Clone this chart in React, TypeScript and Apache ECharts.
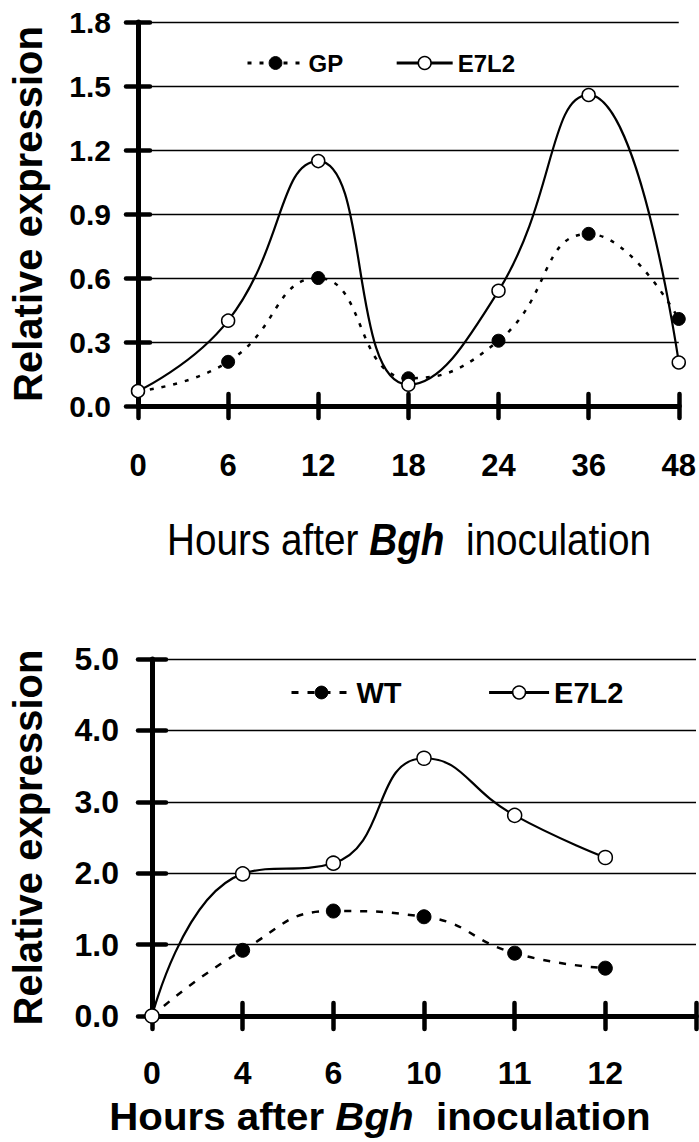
import React, { useEffect, useRef } from "react";
import * as echarts from "echarts";

// Top chart data
const topHours = ["0", "6", "12", "18", "24", "36", "48"];
const topGP = [0.07, 0.207, 0.6, 0.13, 0.306, 0.807, 0.408];
const topE7L2 = [0.07, 0.4, 1.148, 0.1, 0.54, 1.458, 0.204];
const topYTicks = { min: 0, max: 1.8, interval: 0.3 };

// Bottom chart data
const botHours = ["0", "4", "6", "10", "11", "12", ""];
const botWT = [0, 0.92, 1.47, 1.39, 0.88, 0.67];
const botE7L2 = [0, 1.99, 2.14, 3.61, 2.81, 2.22];
const botYTicks = { min: 0, max: 5, interval: 1 };

const xTitle = "Hours after {i|Bgh}  inoculation";
const yTitle = "Relative expression";

const SANS = "'Liberation Sans', Arial, sans-serif";

export default function App() {
  const ref = useRef<HTMLDivElement>(null);
  useEffect(() => {
    if (!ref.current) return;
    const chart = echarts.init(ref.current, undefined, { renderer: "svg" });

    const axisLine = () => ({ show: true, onZero: false, lineStyle: { color: "#000", width: 5, cap: "round" } });
    const tick = (inside: boolean, length: number) => ({
      show: true,
      inside,
      length,
      lineStyle: { color: "#000", width: 4.5, cap: "round" },
    });

    const filledItem = () => ({ color: "#000", borderColor: "#000", borderWidth: 1 });
    const openItem = () => ({ color: "#fff", borderColor: "#000", borderWidth: 1.5 });

    const catAxis = (grid: number, data: string[], main: boolean, len: number, labelSize: number, margin: number) => ({
      gridIndex: grid,
      type: "category",
      position: "bottom",
      data,
      boundaryGap: false,
      axisLine: main ? axisLine() : { show: false },
      axisTick: tick(!main, len),
      axisLabel: main
        ? { margin, fontFamily: SANS, fontWeight: "bold", fontSize: labelSize, color: "#000" }
        : { show: false },
      splitLine: { show: false },
    });

    const valAxis = (
      grid: number,
      t: { min: number; max: number; interval: number },
      main: boolean,
      len: number,
      margin: number,
      nameGap: number
    ) => ({
      gridIndex: grid,
      type: "value",
      position: "left",
      min: t.min,
      max: t.max,
      interval: t.interval,
      axisLine: main ? axisLine() : { show: false },
      axisTick: tick(!main, len),
      axisLabel: main
        ? {
            margin,
            fontFamily: SANS,
            fontWeight: "bold",
            fontSize: grid === 0 ? 30 : 32,
            color: "#000",
            formatter: (v: number) => v.toFixed(1),
          }
        : { show: false },
      splitLine: main ? { show: true, lineStyle: { color: "#000", width: 1.3 } } : { show: false },
      ...(main
        ? {
            name: yTitle,
            nameLocation: "middle",
            nameRotate: 90,
            nameGap,
            nameTextStyle: { fontFamily: SANS, fontWeight: "bold", fontSize: 40, color: "#000" },
          }
        : {}),
    });

    const option: any = {
      animation: false,
      backgroundColor: "#fff",
      grid: [
        { left: 137, right: 17, top: 22, height: 384, containLabel: false },
        { left: 151, right: 3, top: 659, height: 357, containLabel: false },
      ],
      legend: [
        {
          left: 241,
          top: 46,
          itemWidth: 56,
          itemHeight: 16,
          itemGap: 52,
          textStyle: { fontFamily: SANS, fontWeight: "bold", fontSize: 24, color: "#000" },
          data: [
            { name: "GP", lineStyle: { color: "#000", width: 3, type: [4, 8] }, itemStyle: filledItem() },
            { name: "E7L2", lineStyle: { color: "#000", width: 3, type: "solid" }, itemStyle: openItem() },
          ],
        },
        {
          left: 285,
          top: 673,
          itemWidth: 60,
          itemHeight: 16,
          itemGap: 86,
          textStyle: { fontFamily: SANS, fontWeight: "bold", fontSize: 29, color: "#000" },
          data: [
            { name: "WT", lineStyle: { color: "#000", width: 3, type: [7, 9] }, itemStyle: filledItem() },
            { name: "E7L2", lineStyle: { color: "#000", width: 3, type: "solid" }, itemStyle: openItem() },
          ],
        },
      ],
      graphic: [
        {
          type: "text",
          x: 409,
          y: 539,
          scaleX: 0.86,
          style: {
            text: xTitle,
            fontFamily: SANS,
            fontSize: 45,
            fill: "#000",
            align: "center",
            verticalAlign: "middle",
            rich: {
              i: { fontFamily: SANS, fontSize: 45, fontStyle: "italic", fontWeight: "bold", fill: "#000" },
            },
          },
        },
        {
          type: "text",
          x: 380,
          y: 1117,
          scaleX: 1.06,
          style: {
            text: xTitle,
            fontFamily: SANS,
            fontWeight: "bold",
            fontSize: 38,
            fill: "#000",
            align: "center",
            verticalAlign: "middle",
            rich: {
              i: { fontFamily: SANS, fontSize: 38, fontStyle: "italic", fontWeight: "bold", fill: "#000" },
            },
          },
        },
      ],
      xAxis: [
        catAxis(0, topHours, true, 12, 31, 44),
        catAxis(0, topHours, false, 12, 31, 44),
        catAxis(1, botHours, true, 13, 32, 41),
        catAxis(1, botHours, false, 13, 32, 41),
      ],
      yAxis: [
        valAxis(0, topYTicks, true, 12, 27, 90),
        valAxis(0, topYTicks, false, 12, 27, 90),
        valAxis(1, botYTicks, true, 14, 33, 104),
        valAxis(1, botYTicks, false, 14, 33, 104),
      ],
      series: [
        {
          name: "GP",
          type: "line",
          xAxisIndex: 0,
          yAxisIndex: 0,
          data: topGP,
          smooth: 0.5,
          symbol: "circle",
          symbolSize: 13,
          lineStyle: { color: "#000", width: 2.5, type: [4, 8] },
          itemStyle: filledItem(),
          z: 3,
        },
        {
          name: "E7L2",
          type: "line",
          xAxisIndex: 0,
          yAxisIndex: 0,
          data: topE7L2,
          smooth: 0.5,
          symbol: "circle",
          symbolSize: 13,
          lineStyle: { color: "#000", width: 2.2, type: "solid" },
          itemStyle: openItem(),
          z: 4,
        },
        {
          name: "WT",
          type: "line",
          xAxisIndex: 2,
          yAxisIndex: 2,
          data: botWT,
          smooth: 0.5,
          symbol: "circle",
          symbolSize: 14,
          lineStyle: { color: "#000", width: 2.5, type: [7, 9] },
          itemStyle: filledItem(),
          z: 3,
        },
        {
          name: "E7L2",
          type: "line",
          xAxisIndex: 2,
          yAxisIndex: 2,
          data: botE7L2,
          smooth: 0.5,
          symbol: "circle",
          symbolSize: 14,
          lineStyle: { color: "#000", width: 2.2, type: "solid" },
          itemStyle: openItem(),
          z: 4,
        },
      ],
    };
    chart.setOption(option);
    return () => chart.dispose();
  }, []);

  return (
    <div
      ref={ref}
      style={{ position: "fixed", left: 0, top: 0, width: 699, height: 1142, background: "#fff" }}
    />
  );
}
